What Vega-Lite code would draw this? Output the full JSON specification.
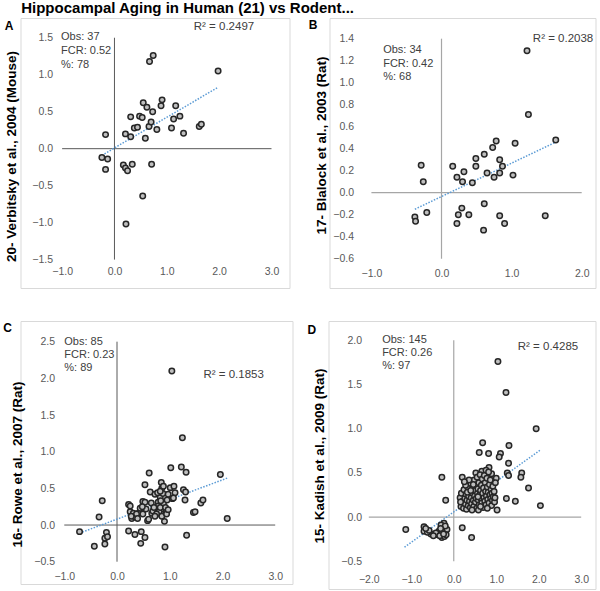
{
"$schema": "https://vega.github.io/schema/vega-lite/v6.json",
"background": "white",
"padding": {"left": 2.5, "top": 0, "right": 0, "bottom": 0},
"title": {"text": "Hippocampal Aging in Human (21) vs Rodent...", "anchor": "start", "dx": 18.5, "offset": 2, "fontSize": 15, "fontWeight": "bold", "font": "Liberation Sans", "color": "black"},
"datasets": {
"A": [{"x":-0.17,"y":0.19},{"x":-0.24,"y":-0.12},{"x":-0.13,"y":-0.14},{"x":-0.17,"y":-0.28},{"x":0.21,"y":0.20},{"x":0.31,"y":0.16},{"x":0.31,"y":0.43},{"x":0.38,"y":0.28},{"x":0.44,"y":0.29},{"x":0.48,"y":0.44},{"x":0.53,"y":0.42},{"x":0.55,"y":0.62},{"x":0.62,"y":0.56},{"x":0.59,"y":0.14},{"x":0.66,"y":0.30},{"x":0.70,"y":0.36},{"x":0.73,"y":0.50},{"x":0.67,"y":1.18},{"x":0.74,"y":1.26},{"x":0.81,"y":0.26},{"x":0.89,"y":0.58},{"x":0.91,"y":0.66},{"x":1.09,"y":0.28},{"x":1.13,"y":0.40},{"x":1.17,"y":0.58},{"x":1.25,"y":0.44},{"x":1.32,"y":0.21},{"x":1.62,"y":0.30},{"x":1.66,"y":0.33},{"x":1.98,"y":1.05},{"x":0.17,"y":-0.22},{"x":0.21,"y":-0.26},{"x":0.25,"y":-0.30},{"x":0.34,"y":-0.21},{"x":0.71,"y":-0.21},{"x":0.54,"y":-0.64},{"x":0.22,"y":-1.02}],
"B": [{"x":-0.29,"y":0.25},{"x":-0.26,"y":0.10},{"x":-0.38,"y":-0.22},{"x":-0.37,"y":-0.26},{"x":-0.21,"y":-0.18},{"x":0.16,"y":0.24},{"x":0.22,"y":0.14},{"x":0.32,"y":0.19},{"x":0.30,"y":0.10},{"x":0.44,"y":0.09},{"x":0.49,"y":0.31},{"x":0.49,"y":0.24},{"x":0.61,"y":0.35},{"x":0.65,"y":0.18},{"x":0.73,"y":0.41},{"x":0.78,"y":0.47},{"x":0.75,"y":0.14},{"x":0.83,"y":0.30},{"x":0.83,"y":0.18},{"x":0.87,"y":0.24},{"x":1.02,"y":0.16},{"x":1.05,"y":0.45},{"x":1.22,"y":1.29},{"x":1.24,"y":0.71},{"x":1.63,"y":0.48},{"x":0.29,"y":-0.14},{"x":0.24,"y":-0.20},{"x":0.22,"y":-0.28},{"x":0.39,"y":-0.20},{"x":0.61,"y":-0.10},{"x":0.60,"y":-0.34},{"x":0.83,"y":-0.21},{"x":0.90,"y":-0.28},{"x":1.48,"y":-0.21}],
"C": [{"x":-0.71,"y":-0.09},{"x":-0.43,"y":-0.29},{"x":-0.34,"y":0.11},{"x":-0.28,"y":0.33},{"x":-0.20,"y":-0.10},{"x":-0.23,"y":-0.18},{"x":-0.18,"y":-0.16},{"x":-0.23,"y":-0.26},{"x":0.22,"y":0.28},{"x":0.22,"y":-0.08},{"x":0.25,"y":0.18},{"x":0.28,"y":0.09},{"x":0.34,"y":-0.13},{"x":0.31,"y":0.16},{"x":0.41,"y":0.16},{"x":0.44,"y":0.23},{"x":0.46,"y":-0.09},{"x":0.45,"y":-0.25},{"x":0.49,"y":0.32},{"x":0.53,"y":0.31},{"x":0.53,"y":0.55},{"x":0.53,"y":-0.17},{"x":0.58,"y":0.06},{"x":0.61,"y":0.71},{"x":0.63,"y":0.45},{"x":0.66,"y":0.16},{"x":0.72,"y":0.42},{"x":0.77,"y":0.25},{"x":0.78,"y":0.31},{"x":0.80,"y":0.18},{"x":0.82,"y":0.38},{"x":0.84,"y":0.58},{"x":0.85,"y":0.50},{"x":0.87,"y":0.43},{"x":0.88,"y":0.29},{"x":0.89,"y":0.15},{"x":0.90,"y":0.05},{"x":0.91,"y":-0.30},{"x":0.93,"y":0.18},{"x":0.95,"y":0.34},{"x":1.01,"y":0.51},{"x":1.02,"y":0.78},{"x":1.04,"y":2.10},{"x":1.05,"y":0.36},{"x":1.08,"y":0.53},{"x":1.10,"y":0.44},{"x":1.22,"y":0.79},{"x":1.24,"y":1.19},{"x":1.26,"y":0.48},{"x":1.29,"y":0.34},{"x":1.31,"y":0.72},{"x":1.30,"y":0.45},{"x":1.32,"y":-0.14},{"x":1.45,"y":0.17},{"x":1.48,"y":0.18},{"x":1.59,"y":0.30},{"x":1.63,"y":0.34},{"x":1.96,"y":0.69},{"x":2.09,"y":0.09},{"x":0.34,"y":0.11},{"x":0.37,"y":0.15},{"x":0.49,"y":0.15},{"x":0.55,"y":0.22},{"x":0.68,"y":0.19},{"x":0.75,"y":0.15},{"x":0.78,"y":0.26},{"x":0.82,"y":0.24},{"x":0.85,"y":0.12},{"x":0.83,"y":0.33},{"x":0.92,"y":0.24},{"x":0.94,"y":0.15},{"x":0.77,"y":0.44},{"x":0.72,"y":0.12},{"x":0.60,"y":0.08},{"x":0.48,"y":0.25},{"x":0.25,"y":0.26},{"x":0.27,"y":0.12},{"x":0.39,"y":0.09},{"x":0.97,"y":0.42},{"x":0.82,"y":0.46},{"x":1.07,"y":0.37},{"x":0.88,"y":0.53},{"x":0.65,"y":0.30},{"x":0.97,"y":0.21},{"x":0.70,"y":0.24}],
"D": [{"x":-1.13,"y":-0.14},{"x":-0.70,"y":-0.11},{"x":-0.70,"y":-0.16},{"x":-0.54,"y":-0.19},{"x":-0.38,"y":-0.20},{"x":-0.35,"y":-0.16},{"x":-0.28,"y":-0.23},{"x":-0.25,"y":-0.12},{"x":-0.23,"y":-0.07},{"x":-0.19,"y":-0.18},{"x":-0.16,"y":-0.14},{"x":-0.22,"y":-0.22},{"x":-0.42,"y":-0.18},{"x":-0.62,"y":-0.17},{"x":-0.30,"y":-0.09},{"x":-0.27,"y":-0.17},{"x":-0.20,"y":-0.10},{"x":-0.33,"y":-0.21},{"x":-0.48,"y":-0.21},{"x":-0.58,"y":-0.15},{"x":-0.18,"y":-0.20},{"x":-0.24,"y":-0.19},{"x":-0.31,"y":-0.13},{"x":-0.66,"y":-0.13},
{"x":-0.28,"y":0.45},{"x":-0.19,"y":0.19},{"x":0.20,"y":-0.12},{"x":0.42,"y":-0.23},{"x":0.20,"y":0.45},{"x":1.04,"y":1.76},{"x":1.23,"y":1.41},{"x":1.94,"y":1.00},{"x":0.68,"y":0.84},{"x":0.60,"y":0.73},{"x":0.82,"y":0.72},{"x":1.10,"y":0.72},{"x":1.07,"y":0.68},{"x":1.30,"y":0.81},{"x":1.29,"y":0.61},{"x":1.26,"y":0.50},{"x":1.29,"y":0.47},{"x":1.60,"y":0.50},{"x":1.58,"y":0.45},{"x":1.76,"y":0.33},{"x":2.04,"y":0.13},{"x":1.45,"y":0.18},{"x":1.24,"y":0.21},{"x":1.02,"y":0.08},{"x":1.00,"y":0.44},{"x":0.83,"y":0.56},{"x":0.66,"y":0.52},{"x":0.52,"y":0.50},{"x":0.36,"y":0.37},{"x":0.24,"y":0.25},{"x":0.22,"y":0.14},{"x":0.44,"y":0.10},{"x":0.19,"y":0.19},{"x":0.76,"y":0.53},{"x":0.89,"y":0.49},
{"x":0.15,"y":0.22},{"x":0.17,"y":0.12},{"x":0.18,"y":0.27},{"x":0.21,"y":0.18},{"x":0.23,"y":0.10},{"x":0.24,"y":0.31},{"x":0.26,"y":0.21},{"x":0.27,"y":0.15},{"x":0.29,"y":0.26},{"x":0.30,"y":0.09},{"x":0.31,"y":0.19},{"x":0.33,"y":0.34},{"x":0.34,"y":0.13},{"x":0.35,"y":0.24},{"x":0.37,"y":0.18},{"x":0.38,"y":0.29},{"x":0.39,"y":0.11},{"x":0.40,"y":0.38},{"x":0.41,"y":0.22},{"x":0.42,"y":0.15},{"x":0.44,"y":0.27},{"x":0.45,"y":0.33},{"x":0.46,"y":0.19},{"x":0.47,"y":0.12},{"x":0.48,"y":0.42},{"x":0.49,"y":0.24},{"x":0.50,"y":0.30},{"x":0.51,"y":0.17},{"x":0.52,"y":0.36},{"x":0.53,"y":0.21},{"x":0.54,"y":0.10},{"x":0.55,"y":0.45},{"x":0.56,"y":0.27},{"x":0.57,"y":0.32},{"x":0.58,"y":0.19},{"x":0.59,"y":0.39},{"x":0.60,"y":0.14},{"x":0.61,"y":0.25},{"x":0.62,"y":0.48},{"x":0.63,"y":0.30},{"x":0.64,"y":0.21},{"x":0.65,"y":0.36},{"x":0.66,"y":0.16},{"x":0.67,"y":0.43},{"x":0.68,"y":0.27},{"x":0.69,"y":0.11},{"x":0.70,"y":0.33},{"x":0.71,"y":0.22},{"x":0.72,"y":0.47},{"x":0.73,"y":0.18},{"x":0.74,"y":0.39},{"x":0.75,"y":0.29},{"x":0.76,"y":0.14},{"x":0.77,"y":0.24},{"x":0.78,"y":0.44},{"x":0.79,"y":0.34},{"x":0.80,"y":0.20},{"x":0.81,"y":0.28},{"x":0.82,"y":0.51},{"x":0.83,"y":0.16},{"x":0.84,"y":0.37},{"x":0.85,"y":0.25},{"x":0.86,"y":0.42},{"x":0.87,"y":0.21},{"x":0.88,"y":0.31},{"x":0.89,"y":0.13},{"x":0.90,"y":0.27},{"x":0.91,"y":0.19},{"x":0.92,"y":0.35},{"x":0.93,"y":0.23},{"x":0.95,"y":0.29},{"x":0.96,"y":0.17},{"x":0.97,"y":0.22},{"x":0.98,"y":0.39},{"x":0.28,"y":0.36},{"x":0.36,"y":0.42},{"x":0.43,"y":0.08},{"x":0.58,"y":0.08},{"x":0.16,"y":0.17},{"x":0.25,"y":0.40},{"x":0.32,"y":0.28},{"x":0.46,"y":0.37},{"x":0.63,"y":0.12},{"x":0.79,"y":0.10},{"x":0.57,"y":0.23},{"x":0.40,"y":0.30}],
"trendA": [{"x":-0.24,"y":-0.09},{"x":1.98,"y":0.83}],
"trendB": [{"x":-0.38,"y":-0.15},{"x":1.63,"y":0.46}],
"trendC": [{"x":-0.71,"y":-0.11},{"x":2.09,"y":0.64}],
"trendD": [{"x":-1.16,"y":-0.34},{"x":2.04,"y":0.76}]
},
"spacing": 31,
"vconcat": [
{"spacing": 17, "hconcat": [
{"width": 269, "height": 270,
 "layer": [
  {"data": {"values": [{}]}, "mark": {"type": "rule", "color": "#595959", "strokeWidth": 1}, "encoding": {"x": {"datum": 0, "type": "quantitative"}, "y": {"datum": -1.5, "type": "quantitative"}, "y2": {"datum": 1.5}}},
  {"data": {"values": [{}]}, "mark": {"type": "rule", "color": "#595959", "strokeWidth": 1}, "encoding": {"y": {"datum": 0, "type": "quantitative"}, "x": {"datum": -1, "type": "quantitative"}, "x2": {"datum": 3}}},
  {"data": {"name": "trendA"}, "mark": {"type": "line", "color": "#5b9bd5", "strokeDash": [1.5, 1.5], "strokeWidth": 1.5}, "encoding": {"x": {"field": "x", "type": "quantitative"}, "y": {"field": "y", "type": "quantitative"}}},
  {"data": {"name": "A"}, "mark": {"type": "circle", "fill": "#bfbfbf", "stroke": "#262626", "strokeWidth": 1.5, "size": 30, "opacity": 1},
   "encoding": {
    "x": {"field": "x", "type": "quantitative", "scale": {"domain": [-1.795, 3.344], "nice": false, "zero": false}, "axis": {"values": [-1, 0, 1, 2, 3], "tickCount": 20, "format": ".1f", "offset": -22, "title": null, "labelOverlap": false, "labelFlush": false}},
    "y": {"field": "y", "type": "quantitative", "scale": {"domain": [-1.884, 1.767], "nice": false, "zero": false}, "axis": {"values": [-1.5, -1, -0.5, 0, 0.5, 1, 1.5], "tickCount": 20, "format": ".1f", "offset": 0, "labelPadding": -32, "title": "20- Verbitsky et al., 2004  (Mouse)", "titleX": -5.2, "titleY": 138, "labelOverlap": false, "labelFlush": false}}}},
  {"data": {"values": [{}]}, "mark": {"type": "text", "align": "left", "baseline": "top", "lineHeight": 13.7, "fontSize": 11, "color": "#404040", "font": "Liberation Sans", "text": ["Obs: 37", "FCR: 0.52", "%: 78"]}, "encoding": {"x": {"datum": -1.02, "type": "quantitative"}, "y": {"datum": 1.588, "type": "quantitative"}}},
  {"data": {"values": [{}]}, "mark": {"type": "text", "align": "left", "baseline": "middle", "fontSize": 11.5, "color": "#404040", "font": "Liberation Sans", "text": "R² = 0.2497"}, "encoding": {"x": {"datum": 1.515, "type": "quantitative"}, "y": {"datum": 1.645, "type": "quantitative"}}},
  {"data": {"values": [{}]}, "mark": {"type": "text", "align": "left", "baseline": "alphabetic", "fontSize": 12, "fontWeight": "bold", "color": "black", "font": "Liberation Sans", "text": "A"}, "encoding": {"x": {"datum": -2.095, "type": "quantitative"}, "y": {"datum": 1.60, "type": "quantitative"}}}
 ]},
{"width": 266, "height": 270,
 "layer": [
  {"data": {"values": [{}]}, "mark": {"type": "rule", "color": "#a6a6a6", "strokeWidth": 1.2}, "encoding": {"x": {"datum": 0, "type": "quantitative"}, "y": {"datum": -0.6, "type": "quantitative"}, "y2": {"datum": 1.4}}},
  {"data": {"values": [{}]}, "mark": {"type": "rule", "color": "#a6a6a6", "strokeWidth": 1.2}, "encoding": {"y": {"datum": 0, "type": "quantitative"}, "x": {"datum": -1, "type": "quantitative"}, "x2": {"datum": 2}}},
  {"data": {"name": "trendB"}, "mark": {"type": "line", "color": "#5b9bd5", "strokeDash": [1.5, 1.5], "strokeWidth": 1.5}, "encoding": {"x": {"field": "x", "type": "quantitative"}, "y": {"field": "y", "type": "quantitative"}}},
  {"data": {"name": "B"}, "mark": {"type": "circle", "fill": "#bfbfbf", "stroke": "#262626", "strokeWidth": 1.5, "size": 30, "opacity": 1},
   "encoding": {
    "x": {"field": "x", "type": "quantitative", "scale": {"domain": [-1.598, 2.197], "nice": false, "zero": false}, "axis": {"values": [-1, 0, 1, 2], "tickCount": 20, "format": ".1f", "offset": -20, "title": null, "labelOverlap": false, "labelFlush": false}},
    "y": {"field": "y", "type": "quantitative", "scale": {"domain": [-0.866, 1.588], "nice": false, "zero": false}, "axis": {"values": [-0.6, -0.4, -0.2, 0, 0.2, 0.4, 0.6, 0.8, 1, 1.2, 1.4], "tickCount": 20, "format": ".1f", "offset": 0, "labelPadding": -24, "title": "17- Blalock et al.,  2003 (Rat)", "titleX": -4.2, "titleY": 127, "labelOverlap": false, "labelFlush": false}}}},
  {"data": {"values": [{}]}, "mark": {"type": "text", "align": "left", "baseline": "top", "lineHeight": 13.7, "fontSize": 11, "color": "#404040", "font": "Liberation Sans", "text": ["Obs: 34", "FCR: 0.42", "%: 68"]}, "encoding": {"x": {"datum": -0.832, "type": "quantitative"}, "y": {"datum": 1.353, "type": "quantitative"}}},
  {"data": {"values": [{}]}, "mark": {"type": "text", "align": "left", "baseline": "middle", "fontSize": 11.5, "color": "#404040", "font": "Liberation Sans", "text": "R² = 0.2038"}, "encoding": {"x": {"datum": 1.303, "type": "quantitative"}, "y": {"datum": 1.40, "type": "quantitative"}}},
  {"data": {"values": [{}]}, "mark": {"type": "text", "align": "left", "baseline": "alphabetic", "fontSize": 12, "fontWeight": "bold", "color": "black", "font": "Liberation Sans", "text": "B"}, "encoding": {"x": {"datum": -1.893, "type": "quantitative"}, "y": {"datum": 1.485, "type": "quantitative"}}}
 ]}
]},
{"spacing": 13, "hconcat": [
{"width": 272, "height": 263,
 "layer": [
  {"data": {"values": [{}]}, "mark": {"type": "rule", "color": "#595959", "strokeWidth": 1}, "encoding": {"x": {"datum": 0, "type": "quantitative"}, "y": {"datum": -0.5, "type": "quantitative"}, "y2": {"datum": 2.5}}},
  {"data": {"values": [{}]}, "mark": {"type": "rule", "color": "#595959", "strokeWidth": 1}, "encoding": {"y": {"datum": 0, "type": "quantitative"}, "x": {"datum": -1, "type": "quantitative"}, "x2": {"datum": 3}}},
  {"data": {"name": "trendC"}, "mark": {"type": "line", "color": "#5b9bd5", "strokeDash": [1.5, 1.5], "strokeWidth": 1.5}, "encoding": {"x": {"field": "x", "type": "quantitative"}, "y": {"field": "y", "type": "quantitative"}}},
  {"data": {"name": "C"}, "mark": {"type": "circle", "fill": "#bfbfbf", "stroke": "#262626", "strokeWidth": 1.5, "size": 30, "opacity": 1},
   "encoding": {
    "x": {"field": "x", "type": "quantitative", "scale": {"domain": [-1.83, 3.328], "nice": false, "zero": false}, "axis": {"values": [-1, 0, 1, 2, 3], "tickCount": 20, "format": ".1f", "offset": -13, "title": null, "labelOverlap": false, "labelFlush": false}},
    "y": {"field": "y", "type": "quantitative", "scale": {"domain": [-0.804, 2.782], "nice": false, "zero": false}, "axis": {"values": [-0.5, 0, 0.5, 1, 1.5, 2, 2.5], "tickCount": 20, "format": ".1f", "offset": 0, "labelPadding": -34, "title": "16- Rowe  et al.,  2007 (Rat)", "titleX": 0.8, "titleY": 143, "labelOverlap": false, "labelFlush": false}}}},
  {"data": {"values": [{}]}, "mark": {"type": "text", "align": "left", "baseline": "top", "lineHeight": 13.2, "fontSize": 11, "color": "#404040", "font": "Liberation Sans", "text": ["Obs: 85", "FCR: 0.23", "%: 89"]}, "encoding": {"x": {"datum": -1.0, "type": "quantitative"}, "y": {"datum": 2.583, "type": "quantitative"}}},
  {"data": {"values": [{}]}, "mark": {"type": "text", "align": "left", "baseline": "middle", "fontSize": 11.5, "color": "#404040", "font": "Liberation Sans", "text": "R² = 0.1853"}, "encoding": {"x": {"datum": 1.639, "type": "quantitative"}, "y": {"datum": 2.046, "type": "quantitative"}}},
  {"data": {"values": [{}]}, "mark": {"type": "text", "align": "left", "baseline": "alphabetic", "fontSize": 12, "fontWeight": "bold", "color": "black", "font": "Liberation Sans", "text": "C"}, "encoding": {"x": {"datum": -2.158, "type": "quantitative"}, "y": {"datum": 2.636, "type": "quantitative"}}}
 ]},
{"width": 267, "height": 268,
 "layer": [
  {"data": {"values": [{}]}, "mark": {"type": "rule", "color": "#a6a6a6", "strokeWidth": 1.2}, "encoding": {"x": {"datum": 0, "type": "quantitative"}, "y": {"datum": -0.5, "type": "quantitative"}, "y2": {"datum": 2}}},
  {"data": {"values": [{}]}, "mark": {"type": "rule", "color": "#a6a6a6", "strokeWidth": 1.2}, "encoding": {"y": {"datum": 0, "type": "quantitative"}, "x": {"datum": -2, "type": "quantitative"}, "x2": {"datum": 3}}},
  {"data": {"name": "trendD"}, "mark": {"type": "line", "color": "#5b9bd5", "strokeDash": [1.5, 1.5], "strokeWidth": 1.5}, "encoding": {"x": {"field": "x", "type": "quantitative"}, "y": {"field": "y", "type": "quantitative"}}},
  {"data": {"name": "D"}, "mark": {"type": "circle", "fill": "#bfbfbf", "stroke": "#262626", "strokeWidth": 1.5, "size": 30, "opacity": 1},
   "encoding": {
    "x": {"field": "x", "type": "quantitative", "scale": {"domain": [-2.949, 3.337], "nice": false, "zero": false}, "axis": {"values": [-2, -1, 0, 1, 2, 3], "tickCount": 20, "format": ".1f", "offset": -15, "title": null, "labelOverlap": false, "labelFlush": false}},
    "y": {"field": "y", "type": "quantitative", "scale": {"domain": [-0.813, 2.218], "nice": false, "zero": false}, "axis": {"values": [-0.5, 0, 0.5, 1, 1.5, 2], "tickCount": 20, "format": ".1f", "offset": 0, "labelPadding": -33, "title": "15- Kadish et al.,  2009 (Rat)", "titleX": -5.2, "titleY": 134.5, "labelOverlap": false, "labelFlush": false}}}},
  {"data": {"values": [{}]}, "mark": {"type": "text", "align": "left", "baseline": "top", "lineHeight": 13, "fontSize": 11, "color": "#404040", "font": "Liberation Sans", "text": ["Obs: 145", "FCR: 0.26", "%: 97"]}, "encoding": {"x": {"datum": -1.686, "type": "quantitative"}, "y": {"datum": 2.072, "type": "quantitative"}}},
  {"data": {"values": [{}]}, "mark": {"type": "text", "align": "left", "baseline": "middle", "fontSize": 11.5, "color": "#404040", "font": "Liberation Sans", "text": "R² = 0.4285"}, "encoding": {"x": {"datum": 1.507, "type": "quantitative"}, "y": {"datum": 1.924, "type": "quantitative"}}},
  {"data": {"values": [{}]}, "mark": {"type": "text", "align": "left", "baseline": "alphabetic", "fontSize": 12, "fontWeight": "bold", "color": "black", "font": "Liberation Sans", "text": "D"}, "encoding": {"x": {"datum": -3.443, "type": "quantitative"}, "y": {"datum": 2.074, "type": "quantitative"}}}
 ]}
]}
],
"config": {
 "view": {"stroke": "#d9d9d9", "strokeWidth": 1},
 "axis": {"domain": false, "grid": false, "ticks": false, "tickSize": 0, "labelPadding": 0, "minExtent": 0, "labelFont": "Liberation Sans", "labelFontSize": 10.5, "labelColor": "#595959", "labelFlush": false, "labelOverlap": false, "titleFont": "Liberation Sans", "titleFontSize": 13.5, "titleFontWeight": "bold", "titleColor": "black", "titleAngle": -90, "titleBaseline": "alphabetic", "titleAlign": "center"}
}
}
